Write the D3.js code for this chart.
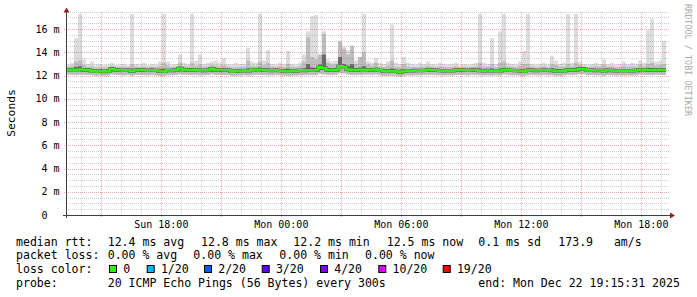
<!DOCTYPE html>
<html>
<head>
<meta charset="utf-8">
<script src="https://cdn.jsdelivr.net/npm/d3@7"></script>
<style>
  body { margin: 0; background: #fff; }
  svg { display: block; }
  text { font-family: "DejaVu Sans Mono", monospace; fill: #000; }
  .pre { white-space: pre; }
</style>
</head>
<body>
<svg id="chart" width="697" height="297"></svg>
<script>
// 30 hours, one value every 12 minutes (150 steps)
const startTime = new Date(Date.UTC(2025, 11, 21, 13, 15, 31));
const endTime = new Date(Date.UTC(2025, 11, 22, 19, 15, 31));
const stepMinutes = 12;

// median rtt (ms)
const median = [
  12.50,12.50,12.49,12.51,12.48,12.47,12.40,12.36,12.37,12.35,
  12.38,12.56,12.47,12.45,12.44,12.46,12.37,12.45,12.47,12.46,
  12.44,12.46,12.44,12.37,12.36,12.44,12.43,12.47,12.60,12.50,
  12.48,12.47,12.49,12.44,12.43,12.45,12.58,12.46,12.47,12.45,
  12.46,12.36,12.37,12.38,12.42,12.41,12.44,12.50,12.49,12.45,
  12.44,12.43,12.45,12.42,12.39,12.38,12.40,12.39,12.44,12.43,
  12.45,12.44,12.46,12.70,12.62,12.47,12.46,12.48,12.79,12.76,
  12.52,12.47,12.45,12.50,12.49,12.50,12.48,12.51,12.44,12.39,
  12.38,12.39,12.36,12.28,12.37,12.42,12.41,12.43,12.42,12.44,
  12.47,12.46,12.45,12.42,12.41,12.42,12.40,12.45,12.47,12.46,
  12.44,12.47,12.45,12.42,12.41,12.43,12.41,12.42,12.40,12.50,
  12.49,12.44,12.42,12.41,12.36,12.44,12.45,12.43,12.44,12.46,
  12.44,12.43,12.39,12.38,12.40,12.47,12.46,12.48,12.56,12.54,
  12.44,12.45,12.43,12.44,12.38,12.45,12.43,12.41,12.42,12.40,
  12.42,12.41,12.43,12.50,12.49,12.47,12.46,12.48,12.47,12.46
];

// slowest ping of each step (ms)
const pingMax = [
  12.95,13.10,15.20,17.30,13.40,13.00,13.20,12.95,13.00,12.90,
  12.95,13.10,12.90,12.95,13.00,12.90,17.30,13.00,12.95,13.10,
  12.90,13.00,12.95,13.20,17.30,13.20,12.95,13.00,13.80,13.10,
  13.00,17.30,13.30,13.80,13.00,13.10,13.20,13.30,13.10,13.50,
  13.00,12.95,13.10,13.00,13.00,14.40,13.20,13.10,17.30,13.30,
  14.20,13.00,12.95,13.10,13.00,14.10,13.00,12.95,13.10,13.80,
  15.80,17.10,17.20,13.60,15.80,13.40,13.20,13.30,15.00,14.50,
  14.20,14.60,13.30,13.50,17.30,13.20,13.10,13.50,13.10,13.00,
  13.20,16.40,13.10,13.00,13.60,13.10,13.00,12.95,13.10,13.00,
  13.20,13.00,12.95,13.10,13.00,12.95,13.00,13.10,12.90,13.00,
  12.95,13.00,13.10,17.30,13.10,13.00,15.20,13.00,15.80,17.30,
  13.10,13.00,12.95,13.20,14.10,17.30,13.00,12.95,13.00,13.10,
  12.95,13.70,13.30,13.00,13.10,17.30,13.10,17.30,13.20,13.00,
  12.95,13.00,13.10,13.00,13.40,13.00,13.10,12.95,13.00,13.20,
  13.00,13.10,13.00,13.30,13.10,15.90,16.90,13.20,13.30,15.00
];

// 18th of 20 pings (ms)
const ping18 = [
  12.75,12.85,13.20,13.30,12.90,12.75,12.80,12.70,12.72,12.70,
  12.72,12.85,12.75,12.74,12.76,12.72,13.00,12.75,12.74,12.78,
  12.72,12.76,12.74,12.80,13.10,12.85,12.73,12.76,13.10,12.82,
  12.78,13.10,12.85,12.95,12.76,12.80,12.90,12.85,12.80,12.90,
  12.76,12.70,12.72,12.74,12.75,13.30,12.85,12.80,13.20,12.90,
  13.10,12.78,12.72,12.80,12.74,13.00,12.75,12.72,12.80,13.20,
  15.30,13.60,13.40,13.80,15.60,13.10,12.95,13.00,14.90,14.30,
  13.80,14.50,13.00,13.60,14.00,12.95,12.85,13.10,12.80,12.74,
  12.85,13.30,12.76,12.72,13.00,12.78,12.74,12.72,12.76,12.75,
  12.85,12.76,12.72,12.78,12.74,12.72,12.74,12.80,12.70,12.75,
  12.72,12.76,12.80,13.10,12.78,12.75,13.00,12.74,13.10,13.20,
  12.80,12.75,12.72,12.85,13.00,13.00,12.76,12.72,12.75,12.80,
  12.72,13.00,12.90,12.75,12.78,13.00,12.80,13.10,12.90,12.80,
  12.72,12.75,12.80,12.76,12.95,12.75,12.80,12.72,12.74,12.85,
  12.75,12.80,12.76,12.95,12.80,13.00,13.10,12.85,12.90,13.00
];

// 14th of 20 pings (ms)
const ping14 = [
  12.62,12.64,12.75,12.80,12.62,12.60,12.55,12.50,12.50,12.48,
  12.52,12.70,12.60,12.58,12.57,12.60,12.55,12.58,12.60,12.59,
  12.57,12.60,12.57,12.52,12.58,12.57,12.56,12.60,12.75,12.63,
  12.61,12.65,12.62,12.62,12.56,12.58,12.72,12.60,12.60,12.60,
  12.59,12.50,12.50,12.52,12.55,12.62,12.58,12.63,12.70,12.60,
  12.62,12.56,12.58,12.55,12.52,12.60,12.53,12.52,12.57,12.60,
  13.00,12.70,12.65,12.95,13.80,12.66,12.60,12.64,13.60,13.00,
  12.80,13.00,12.62,12.70,12.80,12.64,12.62,12.68,12.57,12.52,
  12.51,12.60,12.49,12.42,12.52,12.55,12.54,12.56,12.55,12.57,
  12.60,12.59,12.58,12.55,12.54,12.55,12.53,12.58,12.60,12.59,
  12.57,12.60,12.58,12.62,12.55,12.56,12.60,12.55,12.60,12.66,
  12.62,12.57,12.55,12.56,12.52,12.62,12.58,12.56,12.57,12.59,
  12.57,12.62,12.53,12.51,12.53,12.62,12.59,12.64,12.69,12.67,
  12.57,12.58,12.56,12.57,12.55,12.58,12.56,12.54,12.55,12.54,
  12.55,12.54,12.56,12.63,12.62,12.66,12.64,12.61,12.60,12.60
];

// fastest ping of each step (ms)
const pingMin = [
  12.08,12.06,12.05,12.07,12.06,12.05,12.02,11.98,12.00,11.97,
  12.00,12.08,12.05,12.04,12.03,12.05,11.99,12.04,12.05,12.04,
  12.03,12.05,12.02,11.99,11.98,12.03,12.02,12.05,12.10,12.07,
  12.06,12.05,12.07,12.03,12.02,12.04,12.10,12.05,12.06,12.04,
  12.05,11.98,11.99,12.00,12.02,12.01,12.03,12.07,12.06,12.04,
  12.03,12.02,12.04,12.02,12.00,11.99,12.01,12.00,12.03,12.02,
  12.04,12.03,12.05,12.15,12.12,12.06,12.05,12.06,12.20,12.18,
  12.08,12.05,12.04,12.07,12.06,12.08,12.06,12.08,12.03,11.99,
  11.98,11.99,11.97,11.92,11.98,12.02,12.01,12.03,12.02,12.04,
  12.06,12.05,12.04,12.02,12.01,12.02,12.00,12.04,12.06,12.05,
  12.03,12.06,12.04,12.02,12.01,12.03,12.01,12.02,12.00,12.08,
  12.07,12.03,12.02,12.01,11.97,12.03,12.04,12.02,12.03,12.05,
  12.03,12.02,11.99,11.98,12.00,12.06,12.05,12.07,12.12,12.10,
  12.03,12.04,12.02,12.03,11.98,12.04,12.02,12.01,12.02,12.00,
  12.02,12.01,12.03,12.08,12.07,12.06,12.05,12.07,12.06,12.05
];

const yMajorTicks = [0, 2, 4, 6, 8, 10, 12, 14, 16];

const lossLabels = ["0", "1/20", "2/20", "3/20", "4/20", "10/20", "19/20"];
const lossColors = ["#26ff00", "#00b8ff", "#0059ff", "#5e00ff", "#7e00ff", "#dd00ff", "#ff0000"];
const lossBoxX = [109, 146.7, 204, 261.7, 320, 378.3, 442.7];

const legendRtt = ["12.4 ms avg", "12.8 ms max", "12.2 ms min", "12.5 ms now", "0.1 ms sd", "173.9   am/s"];
const legendRttX = [107.7, 201, 293.3, 386.7, 478.3, 558.3];
const legendLoss = ["0.00 % avg", "0.00 % max", "0.00 % min", "0.00 % now"];
const legendLossX = [107.7, 193.3, 279.3, 365];

translate = function(a, b) {
  return "translate(" + a + ", " + b + ")";
}

const svg = d3.select("#chart");
const plotLeft = 66, plotRight = 666, plotBottom = 215, plotTop = 11.6;

let x = d3.scaleUtc().domain([startTime, endTime]).range([plotLeft, plotRight]);
let y = d3.scaleLinear().domain([0, 17.5]).range([plotBottom, plotTop]);

// rows for the step areas, plus one closing row at the end
let rows = median.map(function(m, i) {
  return {
    t: new Date(startTime.getTime() + i * stepMinutes * 60000),
    med: m, max: pingMax[i], p18: ping18[i], p14: ping14[i], min: pingMin[i]
  };
});
rows.push(Object.assign({}, rows[rows.length - 1], {t: endTime}));

let plot = svg.append("g").attr("id", "plot");

// smoke
let band = function(lo, hi) {
  return d3.area()
    .curve(d3.curveStepAfter)
    .x(d => x(d.t))
    .y0(d => y(d[lo]))
    .y1(d => y(d[hi]));
}
plot.append("path").attr("d", band("min", "max")(rows)).attr("fill", "#dddddd");
plot.append("path").attr("d", band("min", "p18")(rows)).attr("fill", "#bdbdbd");
plot.append("path").attr("d", band("med", "p14")(rows)).attr("fill", "#6a6a6a");

// median line
let medLine = d3.line().curve(d3.curveStepAfter).x(d => x(d.t)).y(d => y(d.med));
plot.append("path")
  .attr("d", medLine(rows))
  .attr("fill", "none")
  .attr("stroke", "#555555")
  .attr("stroke-width", 3.4);
plot.append("path")
  .attr("d", medLine(rows))
  .attr("fill", "none")
  .attr("stroke", "#26ff00")
  .attr("stroke-width", 2.6);

// grid (drawn on top, like rrdtool)
let grid = svg.append("g").attr("id", "grid");
let minorY = d3.range(0.5, 17.6, 0.5).filter(v => v % 2 !== 0);
grid.selectAll("line.hminor")
  .data(minorY)
  .enter()
  .append("line")
  .attr("x1", plotLeft).attr("x2", plotRight + 3)
  .attr("y1", d => Math.round(y(d)) + 0.5).attr("y2", d => Math.round(y(d)) + 0.5)
  .attr("stroke", "rgba(130,130,130,0.38)")
  .attr("stroke-dasharray", "1,1");

let hours = x.ticks(d3.utcHour.every(1));
grid.selectAll("line.vminor")
  .data(hours.filter(d => d.getUTCHours() % 3 !== 0))
  .enter()
  .append("line")
  .attr("x1", d => Math.round(x(d)) + 0.5).attr("x2", d => Math.round(x(d)) + 0.5)
  .attr("y1", plotBottom).attr("y2", plotTop)
  .attr("stroke", "rgba(130,130,130,0.32)")
  .attr("stroke-dasharray", "1,1");

grid.selectAll("line.hmajor")
  .data(yMajorTicks.filter(d => d > 0))
  .enter()
  .append("line")
  .attr("x1", plotLeft - 2).attr("x2", plotRight + 3)
  .attr("y1", d => Math.round(y(d)) + 0.5).attr("y2", d => Math.round(y(d)) + 0.5)
  .attr("stroke", "rgba(225,60,60,0.45)")
  .attr("stroke-dasharray", "1,1");

let majors = hours.filter(d => d.getUTCHours() % 3 === 0);
grid.selectAll("line.vmajor")
  .data(majors)
  .enter()
  .append("line")
  .attr("x1", d => Math.round(x(d)) + 0.5).attr("x2", d => Math.round(x(d)) + 0.5)
  .attr("y1", plotBottom + 2).attr("y2", plotTop)
  .attr("stroke", "rgba(225,60,60,0.42)")
  .attr("stroke-dasharray", "1,1");

// axes
let axisColor = "#3f3f3f";
svg.append("line")
  .attr("x1", plotLeft - 3).attr("x2", plotRight + 5)
  .attr("y1", plotBottom + 0.5).attr("y2", plotBottom + 0.5)
  .attr("stroke", axisColor);
svg.append("line")
  .attr("x1", plotLeft + 0.5).attr("x2", plotLeft + 0.5)
  .attr("y1", plotBottom + 3).attr("y2", plotTop - 1)
  .attr("stroke", axisColor);
svg.append("path")
  .attr("d", "M670,212.5L675,215.5L670,218.5Z")
  .attr("fill", "#8f2323");
svg.append("path")
  .attr("d", "M63.5,12.5L66.5,7.5L69.5,12.5Z")
  .attr("fill", "#8f2323");

// y labels
svg.selectAll("text.ylab")
  .data(yMajorTicks)
  .enter()
  .append("text")
  .attr("class", "ylab")
  .attr("x", d => d === 0 ? 47.5 : 59.5)
  .attr("y", d => y(d))
  .attr("dy", "0.36em")
  .attr("text-anchor", "end")
  .style("font-size", "10px")
  .text(d => d === 0 ? "0" : d + " m");

// x labels
let timeFmt = d3.utcFormat("%a %H:%M");
svg.selectAll("text.xlab")
  .data(hours.filter(d => d.getUTCHours() % 6 === 0))
  .enter()
  .append("text")
  .attr("class", "xlab")
  .attr("x", d => x(d) + 0.5)
  .attr("y", 228)
  .attr("text-anchor", "middle")
  .style("font-size", "10px")
  .text(d => timeFmt(d));

// unit label
svg.append("text")
  .attr("transform", translate(15, 113) + " rotate(-90)")
  .attr("text-anchor", "middle")
  .style("font-size", "11.3px")
  .text("Seconds");

// watermark
svg.append("text")
  .attr("transform", translate(685, 4) + " rotate(90)")
  .attr("text-anchor", "start")
  .style("font-size", "8.3px")
  .style("letter-spacing", "0.1px")
  .style("fill", "#a8a8a8")
  .text("RRDTOOL / TOBI OETIKER");

// legend
let legend = svg.append("g").attr("id", "legend").style("font-size", "11.55px");
let rowY = [245.5, 259.2, 272.9, 286.6];

legend.append("text").attr("x", 16).attr("y", rowY[0]).text("median rtt:");
legend.selectAll("text.rtt")
  .data(legendRtt)
  .enter()
  .append("text")
  .attr("class", "pre")
  .attr("x", (d, i) => legendRttX[i])
  .attr("y", rowY[0])
  .text(d => d);

legend.append("text").attr("x", 16).attr("y", rowY[1]).text("packet loss:");
legend.selectAll("text.loss")
  .data(legendLoss)
  .enter()
  .append("text")
  .attr("x", (d, i) => legendLossX[i])
  .attr("y", rowY[1])
  .text(d => d);

legend.append("text").attr("x", 16).attr("y", rowY[2]).text("loss color:");
let items = legend.selectAll("g.lossitem")
  .data(lossLabels)
  .enter()
  .append("g")
  .attr("transform", (d, i) => translate(lossBoxX[i], 0));
items.append("rect")
  .attr("x", 0.5).attr("y", 265.5)
  .attr("width", 7).attr("height", 7)
  .attr("fill", (d, i) => lossColors[i])
  .attr("stroke", "#000");
items.append("text")
  .attr("x", 14.2)
  .attr("y", rowY[2])
  .text(d => d);

legend.append("text").attr("x", 16).attr("y", rowY[3]).text("probe:");
legend.append("text").attr("x", 107.7).attr("y", rowY[3])
  .text("20 ICMP Echo Pings (56 Bytes) every 300s");
legend.append("text").attr("x", 478.3).attr("y", rowY[3])
  .text("end: Mon Dec 22 19:15:31 2025");
</script>
</body>
</html>
